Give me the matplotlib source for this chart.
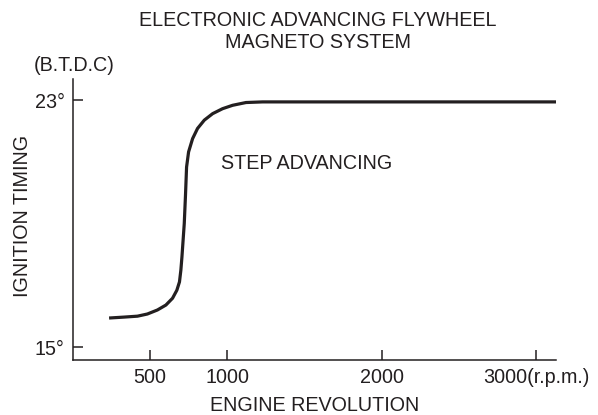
import matplotlib.pyplot as plt

plt.rcParams['font.family'] = ['Liberation Sans', 'DejaVu Sans']

# curve (rpm, degrees B.T.D.C)
rpm = [234, 331, 418, 482, 547, 602, 645, 673, 690, 699, 706, 721, 729, 736, 749, 775,
       807, 851, 905, 969, 1034, 1121, 1229, 3136]
timing = [15.94, 15.97, 16.00, 16.07, 16.20, 16.36, 16.58, 16.84, 17.11, 17.49, 17.92, 19.00,
          19.92, 20.83, 21.32, 21.75, 22.08, 22.35, 22.56, 22.72, 22.83, 22.92, 22.94, 22.94]

x_ticks = [500, 1000, 2000, 3000]
x_labels = ['500', '1000', '2000', '3000(r.p.m.)']
y_ticks = [15, 23]
y_labels = ['15°', '23°']

ink = '#231f20'
fs = 14.2

fig = plt.figure(figsize=(5.98, 4.15), dpi=100)
ax = fig.add_axes([0.122, 0.1325, 0.808, 0.677])

ax.plot(rpm, timing, color=ink, linewidth=2.3, solid_capstyle='butt', solid_joinstyle='round')

ax.set_xlim(0, 3130)
ax.set_ylim(14.58, 23.68)

for side in ['top', 'right']:
    ax.spines[side].set_visible(False)
for side in ['left', 'bottom']:
    ax.spines[side].set_color(ink)
    ax.spines[side].set_linewidth(1.1)

ax.set_xticks(x_ticks)
ax.set_xticklabels(x_labels)
ax.set_yticks(y_ticks)
ax.set_yticklabels(y_labels)
ax.tick_params(direction='in', length=7, width=1.1, color=ink, labelcolor=ink,
               labelsize=fs, pad=6)

ax.set_xlabel('ENGINE REVOLUTION', fontsize=fs, color=ink, labelpad=6)
# y label sits well clear of the tick labels in the reference
fig.text(0.038, 0.48, 'IGNITION TIMING', rotation=90, ha='center', va='center',
         fontsize=fs, color=ink)

fig.text(0.532, 0.924, 'ELECTRONIC ADVANCING FLYWHEEL\nMAGNETO SYSTEM', ha='center', va='center',
         fontsize=fs, color=ink, linespacing=1.15)
fig.text(0.124, 0.843, '(B.T.D.C)', ha='center', va='center', fontsize=fs, color=ink)
ax.text(0.307, 0.7, 'STEP ADVANCING', transform=ax.transAxes, ha='left', va='center',
        fontsize=fs, color=ink)

fig.savefig('out.png', dpi=100)
